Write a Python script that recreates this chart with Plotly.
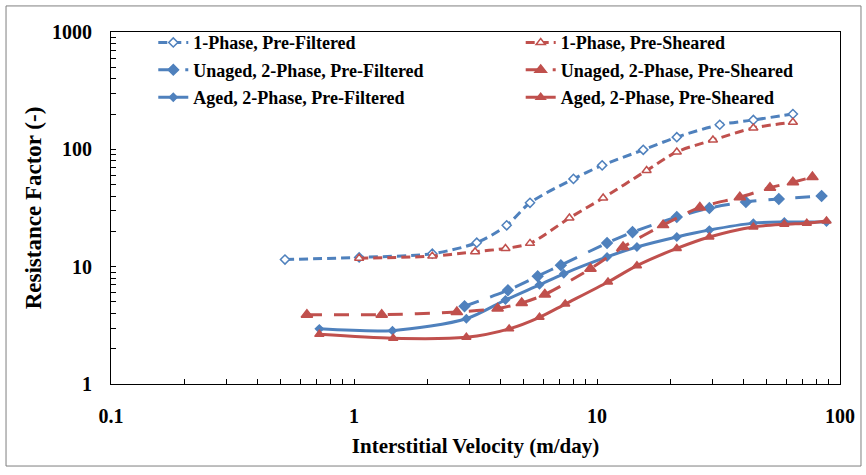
import plotly.graph_objects as go

# Interstitial velocity (m/day) and resistance factor (-) for each fluid/test condition
v_1p_pf = [0.52, 1.05, 2.1, 3.2, 4.25, 5.3, 8.0, 10.5, 15.5, 21.3, 32, 44, 64]
rf_1p_pf = [11.5, 12.0, 12.9, 16.0, 22.5, 35, 56, 73, 99, 127, 162, 178, 200]

v_1p_ps = [1.05, 2.1, 3.15, 4.2, 5.3, 7.7, 10.6, 16, 21.3, 30, 44, 64]
rf_1p_ps = [11.8, 12.3, 13.4, 14.3, 15.8, 26, 38.5, 66, 95, 120, 152, 170]

v_un_pf = [2.85, 4.3, 5.7, 7.1, 11, 14, 21.3, 29, 41, 56, 84]
rf_un_pf = [4.6, 6.3, 8.3, 10.3, 15.9, 19.7, 26.5, 31.6, 35.6, 37.8, 40]

v_un_ps = [0.64, 1.3, 2.65, 3.9, 4.9, 6.1, 9.4, 12.8, 18.7, 26.5, 38.7, 51.5, 64, 77]
rf_un_ps = [3.9, 3.9, 4.1, 4.4, 4.9, 5.8, 9.6, 14.7, 22.6, 32, 39, 47, 52.5, 58]

v_ag_pf = [0.72, 1.44, 2.9, 4.2, 5.8, 7.3, 11, 14.6, 21.3, 29, 44, 59, 88]
rf_ag_pf = [2.95, 2.85, 3.6, 5.2, 7.0, 8.7, 12.1, 14.7, 17.9, 20.5, 23.5, 24, 24]

v_ag_ps = [0.72, 1.45, 2.9, 4.35, 5.8, 7.4, 11.1, 14.6, 21.3, 29, 44, 59, 73, 88]
rf_ag_ps = [2.65, 2.45, 2.5, 2.95, 3.7, 4.8, 7.4, 10.2, 14.3, 17.9, 21.8, 23, 23.5, 24.5]

# Labelled decades on each axis
x_decades = [0.1, 1, 10, 100]
y_decades = [1, 10, 100, 1000]

BLUE = "#4F81BD"
RED = "#C0504D"
FONT = "Liberation Serif"


def log_ticks(decades):
    """Tick at every 1..9 multiple inside the decade span; text only on decades."""
    vals, text = [], []
    for d in decades[:-1]:
        for k in range(1, 10):
            v = round(d * k, 6)
            vals.append(v)
            text.append(str(d) if k == 1 else "")
    vals.append(decades[-1])
    text.append(str(decades[-1]))
    return vals, text


series = [
    # name, x, y, color, dash, marker symbol, marker fill, marker size, legend
    ("1-Phase, Pre-Filtered", v_1p_pf, rf_1p_pf, BLUE, "9px,5px", "diamond", "white", 7, "legend"),
    ("Unaged, 2-Phase, Pre-Filtered", v_un_pf, rf_un_pf, BLUE, "15px,12px", "diamond", BLUE, 8, "legend"),
    ("Aged, 2-Phase, Pre-Filtered", v_ag_pf, rf_ag_pf, BLUE, "solid", "diamond", BLUE, 6, "legend"),
    ("1-Phase, Pre-Sheared", v_1p_ps, rf_1p_ps, RED, "9px,5px", "triangle-up", "white", 8, "legend2"),
    ("Unaged, 2-Phase, Pre-Sheared", v_un_ps, rf_un_ps, RED, "15px,12px", "triangle-up", RED, 10, "legend2"),
    ("Aged, 2-Phase, Pre-Sheared", v_ag_ps, rf_ag_ps, RED, "solid", "triangle-up", RED, 8, "legend2"),
]

fig = go.Figure()
for i, (name, xs, ys, color, dash, sym, fill, size, leg) in enumerate(series):
    fig.add_trace(go.Scatter(
        x=xs, y=ys, name=name, mode="lines+markers",
        line=dict(color=color, width=3, dash=dash, shape="spline", smoothing=0.8),
        marker=dict(symbol=sym, size=size, color=fill, line=dict(color=color, width=1.5)),
        legend=leg, legendgroup=f"g{i}",
    ))

axis_common = dict(
    type="log", showgrid=False, zeroline=False,
    showline=True, linecolor="black", linewidth=1.2, mirror=True,
    ticks="inside", ticklen=5, tickcolor="black",
    tickfont=dict(family=FONT, size=20, color="black", weight="bold"),
    ticklabelstandoff=14,
)

xt_vals, xt_text = log_ticks(x_decades)
yt_vals, yt_text = log_ticks(y_decades)

fig.update_xaxes(
    **axis_common, range=[-1, 2], tickvals=xt_vals, ticktext=xt_text,
    title=dict(text="Interstitial Velocity (m/day)", standoff=12,
               font=dict(family=FONT, size=21, color="black", weight="bold")),
)
fig.update_yaxes(
    **axis_common, range=[0, 3], tickvals=yt_vals, ticktext=yt_text,
    title=dict(text="Resistance Factor (-)", standoff=3,
               font=dict(family=FONT, size=23, color="black", weight="bold")),
)

legend_common = dict(
    font=dict(family=FONT, size=18, color="black", weight="bold"),
    bgcolor="rgba(0,0,0,0)", tracegroupgap=1, yanchor="top", xanchor="left",
    itemwidth=30,
)
fig.update_layout(
    width=866, height=475,
    margin=dict(l=111, r=26, t=32, b=91),
    paper_bgcolor="white", plot_bgcolor="white",
    legend=dict(**legend_common, x=0.058, y=1.022),
    legend2=dict(**legend_common, x=0.562, y=1.022),
    shapes=[dict(type="rect", xref="paper", yref="paper",
                 x0=-0.144, x1=1.0288, y0=-0.233, y1=1.074,
                 line=dict(color="#7f7f7f", width=1), layer="below")],
)

fig.write_html("out.html")
